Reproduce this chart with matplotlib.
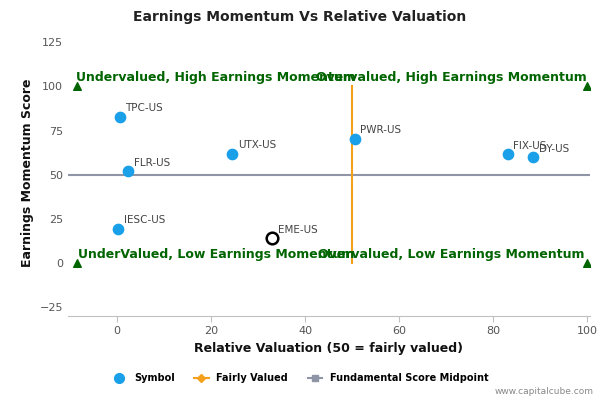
import matplotlib
matplotlib.use("Agg")
import matplotlib.pyplot as plt
from matplotlib.lines import Line2D

symbols = ["TPC-US", "FLR-US", "IESC-US", "UTX-US", "EME-US", "PWR-US", "FIX-US", "DY-US"]
valuation = [0.5, 2.3, 0.2, 24.5, 33.0, 50.5, 83.0, 88.5]
momentum = [83, 52, 19.5, 62, 14, 70.5, 61.5, 60]
highlight = "EME-US"

fig = plt.figure(figsize=(6, 4), dpi=100)
ax = fig.add_axes([0.113, 0.21, 0.87, 0.715])
ax.set_xlim(-10.5, 100.5)
ax.set_ylim(-30, 132)
for s in ["top", "right", "left"]:
    ax.spines[s].set_visible(False)
ax.spines["bottom"].set_color("#c0c0c0")
ax.set_xticks([0, 20, 40, 60, 80, 100])
ax.set_yticks([-25, 0, 25, 50, 75, 100, 125])
ax.tick_params(labelsize=8, colors="#555555", length=0)
ax.tick_params(axis="x", length=4, color="#c0c0c0")

ax.plot([-10.5, 100.5], [50, 50], color="#8f94a6", lw=1.5, zorder=1)
ax.plot([50, 50], [0, 100], color="#f5a01a", lw=1.5, zorder=1)

for s, x, y in zip(symbols, valuation, momentum):
    if s == highlight:
        ax.scatter(x, y, s=70, facecolor="white", edgecolor="black", lw=1.8, zorder=3)
    else:
        ax.scatter(x, y, s=55, color="#1aa0e8", zorder=3)
    ax.text(x + 1.2, y + 3, s, fontsize=7.5, color="#444444", zorder=4)

for x in [-8.5, 100]:
    for y in [0, 100]:
        ax.scatter(x, y, marker="^", s=30, color="#006400", zorder=3)

g = dict(fontsize=9, color="#006400", fontweight="bold", ha="center", va="center")
ax.text(21, 105, "Undervalued, High Earnings Momentum", **g)
ax.text(71, 105, "Overvalued, High Earnings Momentum", **g)
ax.text(21, 5, "UnderValued, Low Earnings Momentum", **g)
ax.text(71, 5, "Overvalued, Low Earnings Momentum", **g)

ax.set_xlabel("Relative Valuation (50 = fairly valued)", fontsize=9, fontweight="bold", color="#111111")
ax.set_ylabel("Earnings Momentum Score", fontsize=9, fontweight="bold", color="#111111")
fig.suptitle("Earnings Momentum Vs Relative Valuation", fontsize=10, fontweight="bold", color="#222222", y=0.975)

handles = [
    Line2D([], [], marker="o", ls="none", color="#1aa0e8", markersize=7),
    Line2D([], [], marker="D", color="#f5a01a", markersize=4),
    Line2D([], [], marker="s", color="#8f94a6", markersize=5),
]
fig.legend(handles, ["Symbol", "Fairly Valued", "Fundamental Score Midpoint"], loc="lower center",
           bbox_to_anchor=(0.5, 0.02), ncol=3, frameon=False, prop={"size": 7, "weight": "bold"},
           handlelength=1.5, columnspacing=2)
fig.text(0.99, 0.01, "www.capitalcube.com", fontsize=6.5, color="#888888", ha="right", va="bottom")
fig.savefig("out.png")
